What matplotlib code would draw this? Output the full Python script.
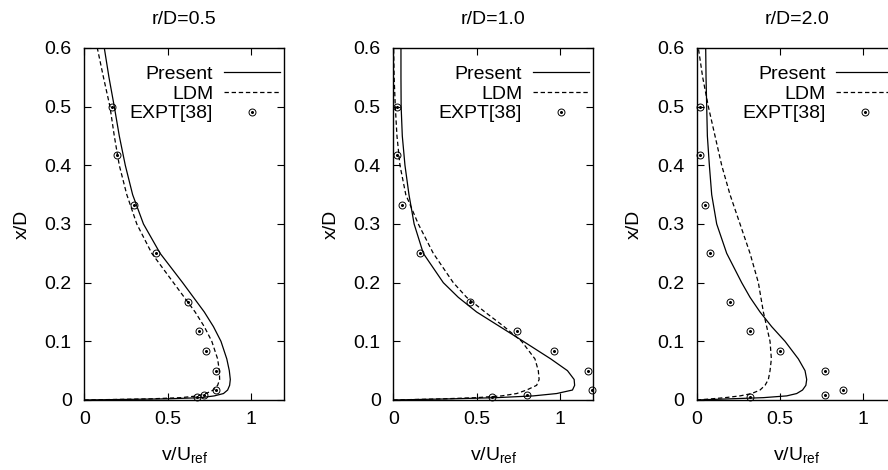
import matplotlib

matplotlib.use("Agg")

import matplotlib.pyplot as plt


plt.rcParams["font.family"] = ["Liberation Sans", "DejaVu Sans"]
plt.rcParams["mathtext.fontset"] = "custom"
plt.rcParams["mathtext.rm"] = "Liberation Sans"
plt.rcParams["mathtext.it"] = "Liberation Sans"

TITLES = ["r/D=0.5", "r/D=1.0", "r/D=2.0"]
LEGEND_LABELS = ["Present", "LDM", "EXPT[38]"]

# x/D stations used for both simulated profiles
XD_CURVE = [0, 0.002, 0.004, 0.007, 0.011, 0.017, 0.025, 0.035, 0.05, 0.07,
            0.1, 0.125, 0.15, 0.175, 0.2, 0.25, 0.3, 0.35, 0.4, 0.45, 0.5,
            0.55, 0.6]

PRESENT_05 = [0, 0.50, 0.70, 0.78, 0.835, 0.86, 0.872, 0.876, 0.87, 0.855,
              0.82, 0.775, 0.72, 0.655, 0.59, 0.455, 0.355, 0.29, 0.246, 0.21,
              0.18, 0.148, 0.12]
LDM_05 = [0, 0.40, 0.58, 0.68, 0.73, 0.775, 0.80, 0.812, 0.81, 0.80,
          0.765, 0.72, 0.665, 0.60, 0.535, 0.405, 0.315, 0.255, 0.21, 0.18,
          0.154, 0.115, 0.078]

PRESENT_10 = [0, 0.35, 0.62, 0.84, 0.98, 1.075, 1.088, 1.085, 1.045, 0.945,
              0.78, 0.64, 0.50, 0.39, 0.30, 0.18, 0.125, 0.094, 0.07, 0.054,
              0.047, 0.046, 0.046]
LDM_10 = [0, 0.30, 0.50, 0.65, 0.74, 0.80, 0.86, 0.875, 0.87, 0.85,
          0.77, 0.665, 0.55, 0.44, 0.36, 0.24, 0.15, 0.075, 0.04, 0.022,
          0.012, 0.005, 0.002]

PRESENT_20 = [0, 0.20, 0.40, 0.54, 0.60, 0.635, 0.655, 0.66, 0.65, 0.61,
              0.53, 0.45, 0.38, 0.32, 0.27, 0.18, 0.12, 0.09, 0.076, 0.064,
              0.06, 0.056, 0.054]
LDM_20 = [0, 0.09, 0.17, 0.26, 0.33, 0.38, 0.41, 0.43, 0.44, 0.448,
          0.44, 0.42, 0.40, 0.385, 0.37, 0.32, 0.26, 0.20, 0.15, 0.11,
          0.07, 0.036, 0.01]

# experimental points
XD_EXPT = [0.5, 0.417, 0.333, 0.25, 0.167, 0.117, 0.083, 0.05, 0.017, 0.008,
           0.0045]
EXPT_05 = [0.164, 0.198, 0.298, 0.428, 0.62, 0.688, 0.73, 0.788, 0.79, 0.72,
           0.678]
EXPT_10 = [0.02, 0.024, 0.05, 0.16, 0.46, 0.743, 0.964, 1.17, 1.195, 0.80,
           0.59]
EXPT_20 = [0.02, 0.02, 0.05, 0.08, 0.20, 0.32, 0.497, 0.77, 0.88, 0.77, 0.32]

PANELS = [
    (PRESENT_05, LDM_05, EXPT_05),
    (PRESENT_10, LDM_10, EXPT_10),
    (PRESENT_20, LDM_20, EXPT_20),
]

FONT_SIZE = 14


def draw_panel(ax, title, present, ldm, expt):
    solid, = ax.plot(present, XD_CURVE, color="black", lw=0.9)
    dashed, = ax.plot(ldm, XD_CURVE, color="black", lw=0.9,
                      linestyle=(0, (3.5, 2.2)))
    circles, = ax.plot(expt, XD_EXPT, linestyle="none", marker="o",
                       markersize=5, markerfacecolor="none",
                       markeredgecolor="black", markeredgewidth=0.7,
                       clip_on=False)
    dots, = ax.plot(expt, XD_EXPT, linestyle="none", marker="o",
                    markersize=1.2, color="black", clip_on=False)

    ax.set_xlim(0, 1.2)
    ax.set_ylim(0, 0.6)
    ax.set_xticks([0, 0.5, 1])
    ax.set_xticklabels(["0", "0.5", "1"])
    ax.set_yticks([0, 0.1, 0.2, 0.3, 0.4, 0.5, 0.6])
    ax.set_yticklabels(["0", "0.1", "0.2", "0.3", "0.4", "0.5", "0.6"])
    ax.tick_params(direction="in", top=True, right=True, length=5,
                   width=0.8, labelsize=FONT_SIZE)
    ax.tick_params(axis="y", pad=9)
    ax.tick_params(axis="x", pad=8)
    for spine in ax.spines.values():
        spine.set_linewidth(1.0)

    ax.set_title(title, fontsize=FONT_SIZE, pad=17)
    ax.set_xlabel("v/U$_{\\mathrm{ref}}$", fontsize=FONT_SIZE, labelpad=12)
    ax.set_ylabel("x/D", fontsize=FONT_SIZE, labelpad=10)

    ax.legend(
        [solid, dashed, (circles, dots)],
        LEGEND_LABELS,
        loc="upper right",
        bbox_to_anchor=(0.98, 0.95),
        frameon=False,
        markerfirst=False,
        fontsize=FONT_SIZE,
        handlelength=2.9,
        handletextpad=0.55,
        labelspacing=0.1,
        borderpad=0,
        borderaxespad=0,
    )


def main():
    fig = plt.figure(figsize=(8.88, 4.70), dpi=100)

    lefts = [84.3 / 888, 393.3 / 888, 696.7 / 888]
    width = 200 / 888
    bottom = 70 / 470
    height = 352 / 470

    for left, title, (present, ldm, expt) in zip(lefts, TITLES, PANELS):
        ax = fig.add_axes([left, bottom, width, height])
        draw_panel(ax, title, present, ldm, expt)

    fig.savefig("out.png", dpi=100)
    plt.close(fig)


if __name__ == "__main__":
    main()
